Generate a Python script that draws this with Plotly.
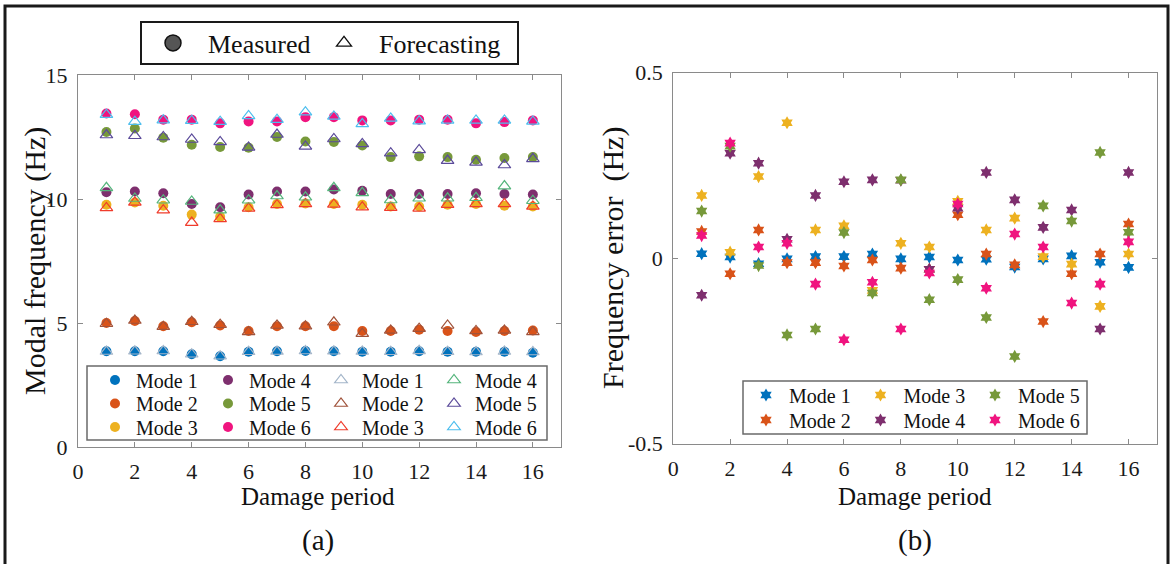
import plotly.graph_objects as go

# ---------------- data ----------------
periods = list(range(1, 17))
mode_names = ["Mode 1", "Mode 2", "Mode 3", "Mode 4", "Mode 5", "Mode 6"]

measured_m1 = [3.86, 3.86, 3.86, 3.74, 3.66, 3.84, 3.86, 3.87, 3.86, 3.84, 3.84, 3.86, 3.84, 3.84, 3.84, 3.80]
measured_m2 = [5.00, 5.08, 4.87, 5.03, 4.90, 4.68, 4.87, 4.87, 4.87, 4.68, 4.68, 4.73, 4.68, 4.64, 4.68, 4.70]
measured_m3 = [9.77, 9.86, 9.73, 9.37, 9.28, 9.67, 9.80, 9.82, 9.80, 9.77, 9.70, 9.70, 9.77, 9.80, 9.73, 9.70]
measured_m4 = [10.27, 10.30, 10.23, 9.80, 9.67, 10.18, 10.30, 10.30, 10.38, 10.33, 10.20, 10.20, 10.20, 10.23, 10.20, 10.18]
measured_m5 = [12.70, 12.84, 12.47, 12.19, 12.10, 12.07, 12.50, 12.32, 12.30, 12.16, 11.69, 11.72, 11.69, 11.58, 11.65, 11.69]
measured_m6 = [13.45, 13.42, 13.20, 13.20, 13.05, 13.13, 13.13, 13.30, 13.30, 13.17, 13.17, 13.20, 13.20, 13.05, 13.10, 13.17]

forecast_m1 = [3.85, 3.86, 3.87, 3.74, 3.66, 3.84, 3.85, 3.87, 3.86, 3.85, 3.84, 3.88, 3.84, 3.83, 3.85, 3.83]
forecast_m2 = [4.97, 5.10, 4.85, 5.05, 4.93, 4.64, 4.90, 4.87, 5.03, 4.57, 4.70, 4.77, 4.90, 4.68, 4.70, 4.64]
forecast_m3 = [9.64, 9.86, 9.55, 9.05, 9.20, 9.62, 9.76, 9.80, 9.78, 9.67, 9.65, 9.62, 9.77, 9.80, 9.80, 9.70]
forecast_m4 = [10.45, 10.02, 9.95, 9.90, 9.55, 9.95, 10.12, 10.07, 10.45, 10.25, 9.96, 10.03, 10.03, 10.05, 10.52, 9.93]
forecast_m5 = [12.58, 12.55, 12.50, 12.40, 12.30, 12.08, 12.60, 12.12, 12.42, 12.22, 11.85, 11.98, 11.55, 11.48, 11.37, 11.62]
forecast_m6 = [13.40, 13.12, 13.18, 13.16, 13.12, 13.35, 13.20, 13.50, 13.33, 13.03, 13.25, 13.14, 13.17, 13.17, 13.17, 13.13]

error_m1 = [0.012, 0.003, -0.015, -0.002, 0.004, 0.004, 0.011, -0.002, 0.003, -0.005, -0.003, -0.024, -0.002, 0.006, -0.011, -0.025]
error_m2 = [0.072, -0.042, 0.076, -0.012, -0.012, -0.021, -0.005, -0.027, -0.030, 0.117, 0.011, -0.018, -0.171, -0.042, 0.011, 0.092]
error_m3 = [0.169, 0.016, 0.220, 0.365, 0.076, 0.087, -0.087, 0.040, 0.030, 0.153, 0.076, 0.108, 0.004, -0.016, -0.130, 0.011]
error_m4 = [-0.100, 0.283, 0.256, 0.051, 0.169, 0.206, 0.211, 0.210, -0.030, 0.135, 0.231, 0.157, 0.083, 0.130, -0.191, 0.231]
error_m5 = [0.127, 0.302, -0.020, -0.207, -0.191, 0.069, -0.094, 0.211, -0.112, -0.058, -0.160, -0.265, 0.141, 0.100, 0.285, 0.070]
error_m6 = [0.061, 0.310, 0.030, 0.040, -0.070, -0.220, -0.065, -0.191, -0.040, 0.146, -0.081, 0.065, 0.030, -0.121, -0.070, 0.044]

x_ticks = [0, 2, 4, 6, 8, 10, 12, 14, 16]
y_ticks_left = [0, 5, 10, 15]
y_ticks_right = [-0.5, 0, 0.5]

measured = [measured_m1, measured_m2, measured_m3, measured_m4, measured_m5, measured_m6]
forecast = [forecast_m1, forecast_m2, forecast_m3, forecast_m4, forecast_m5, forecast_m6]
errors = [error_m1, error_m2, error_m3, error_m4, error_m5, error_m6]

meas_colors = ["#0072BD", "#D95319", "#EDB120", "#7E2F6E", "#77993A", "#F0147F"]
fore_colors = ["#A3B5C9", "#A0523A", "#F03C2C", "#55B57C", "#5B4B9A", "#4DBEEE"]

# ---------------- geometry helpers ----------------
W, H = 1172, 564
ML, MR, MT, MB = 78, 15, 72, 117
PW, PH = W - ML - MR, H - MT - MB
FONT = "Liberation Serif"


def px(x):
    return (x - ML) / PW


def py(y):
    return (H - MB - y) / PH


fig = go.Figure()

left_legends = ["legend", "legend2", "legend3"]
right_legends = ["legend4", "legend5"]

for i in range(6):
    fig.add_trace(go.Scatter(
        x=periods, y=measured[i], mode="markers", name=mode_names[i],
        marker=dict(symbol="circle", size=10, color=meas_colors[i]),
        legend=left_legends[i % 3], xaxis="x", yaxis="y"))
for i in range(6):
    fig.add_trace(go.Scatter(
        x=periods, y=forecast[i], mode="markers", name=mode_names[i],
        marker=dict(symbol="triangle-up-open", size=11, color=fore_colors[i],
                    line=dict(width=1.2, color=fore_colors[i])),
        legend=left_legends[i % 3], xaxis="x", yaxis="y"))
for i in range(6):
    fig.add_trace(go.Scatter(
        x=periods, y=errors[i], mode="markers", name=mode_names[i],
        marker=dict(symbol="hexagram", size=10, color=meas_colors[i]),
        legend=right_legends[i % 2], xaxis="x2", yaxis="y2"))

# top key legend entries
fig.add_trace(go.Scatter(x=[None], y=[None], mode="markers", name="Measured",
                         marker=dict(symbol="circle", size=16, color="#555555",
                                     line=dict(width=1.5, color="#111111")),
                         legend="legend6", xaxis="x", yaxis="y"))
fig.add_trace(go.Scatter(x=[None], y=[None], mode="markers", name="Forecasting",
                         marker=dict(symbol="triangle-up-open", size=13, color="#111111",
                                     line=dict(width=1.3, color="#111111")),
                         legend="legend7", xaxis="x", yaxis="y"))

axis_common = dict(showline=True, linecolor="#8a8a8a", linewidth=1, mirror="ticks",
                   ticks="inside", ticklen=5, tickcolor="#8a8a8a", showgrid=False,
                   zeroline=False, ticklabelstandoff=5,
                   tickfont=dict(family=FONT, size=22, color="#1a1a1a"))

fig.update_layout(
    width=W, height=H,
    font=dict(family=FONT, size=20, color="#111111"),
    margin=dict(l=ML, r=MR, t=MT, b=MB),
    paper_bgcolor="white", plot_bgcolor="white",
    hovermode=False,
    xaxis=dict(domain=[0, px(561.3)], range=[0, 17], tickvals=x_ticks, **axis_common),
    yaxis=dict(domain=[0, py(75)], range=[0, 15], tickvals=y_ticks_left, anchor="x", **axis_common),
    xaxis2=dict(domain=[px(673.2), 1.0], range=[0, 17], tickvals=x_ticks, anchor="y2", **axis_common),
    yaxis2=dict(domain=[py(443.6), py(72.7)], range=[-0.5, 0.5], tickvals=y_ticks_right,
                ticktext=["-0.5", "0", "0.5"], anchor="x2", **axis_common),
)


def leg(xp, yp, itemwidth, ew, size):
    d = dict(x=px(xp), y=py(yp), xanchor="left", yanchor="middle", orientation="h",
             itemwidth=itemwidth, bgcolor="rgba(0,0,0,0)", borderwidth=0, tracegroupgap=0,
             font=dict(family=FONT, size=size, color="#111111"))
    if ew:
        d.update(entrywidth=ew, entrywidthmode="pixels")
    return d


fig.update_layout(
    legend=leg(94, 380, 32, 66, 20),
    legend2=leg(94, 403.5, 32, 66, 20),
    legend3=leg(94, 427, 32, 66, 20),
    legend4=leg(743, 395, 36, 63.5, 20),
    legend5=leg(743, 420, 36, 63.5, 20),
    legend6=leg(138, 43, 60, 0, 26),
    legend7=leg(309, 43, 60, 0, 26),
)

shapes = [
    # outer frame
    dict(type="rect", xref="paper", yref="paper", x0=px(5), x1=px(1168), y0=py(575), y1=py(6),
         line=dict(color="#1a1a1a", width=3), fillcolor="rgba(0,0,0,0)", layer="above"),
    # top key box
    dict(type="rect", xref="paper", yref="paper", x0=px(141), x1=px(518), y0=py(64), y1=py(22),
         line=dict(color="#1a1a1a", width=2), fillcolor="white", layer="above"),
    # left legend box
    dict(type="rect", xref="paper", yref="paper", x0=px(87), x1=px(547), y0=py(440), y1=py(366),
         line=dict(color="#6a6a6a", width=1.5), fillcolor="white", layer="above"),
    # right legend box
    dict(type="rect", xref="paper", yref="paper", x0=px(743), x1=px(1087), y0=py(434), y1=py(381),
         line=dict(color="#6a6a6a", width=1.5), fillcolor="white", layer="above"),
]
fig.update_layout(shapes=shapes)

ann = []


def text(x, y, s, size, angle=0):
    ann.append(dict(x=px(x), y=py(y), xref="paper", yref="paper", text=s, showarrow=False,
                    xanchor="center", yanchor="middle", textangle=angle,
                    font=dict(family=FONT, size=size, color="#111111")))


text(318, 496, "Damage period", 25)
text(915, 496, "Damage period", 25)
text(318, 540, "(a)", 29)
text(915, 540, "(b)", 29)
text(35, 261, "Modal frequency (Hz)", 30, -90)
text(613, 258, "Frequency error  (Hz)", 30, -90)
fig.update_layout(annotations=ann)

fig.write_html("out.html", config={"displayModeBar": False},
               post_script="document.body.style.margin='0';document.body.style.overflow='hidden';")
